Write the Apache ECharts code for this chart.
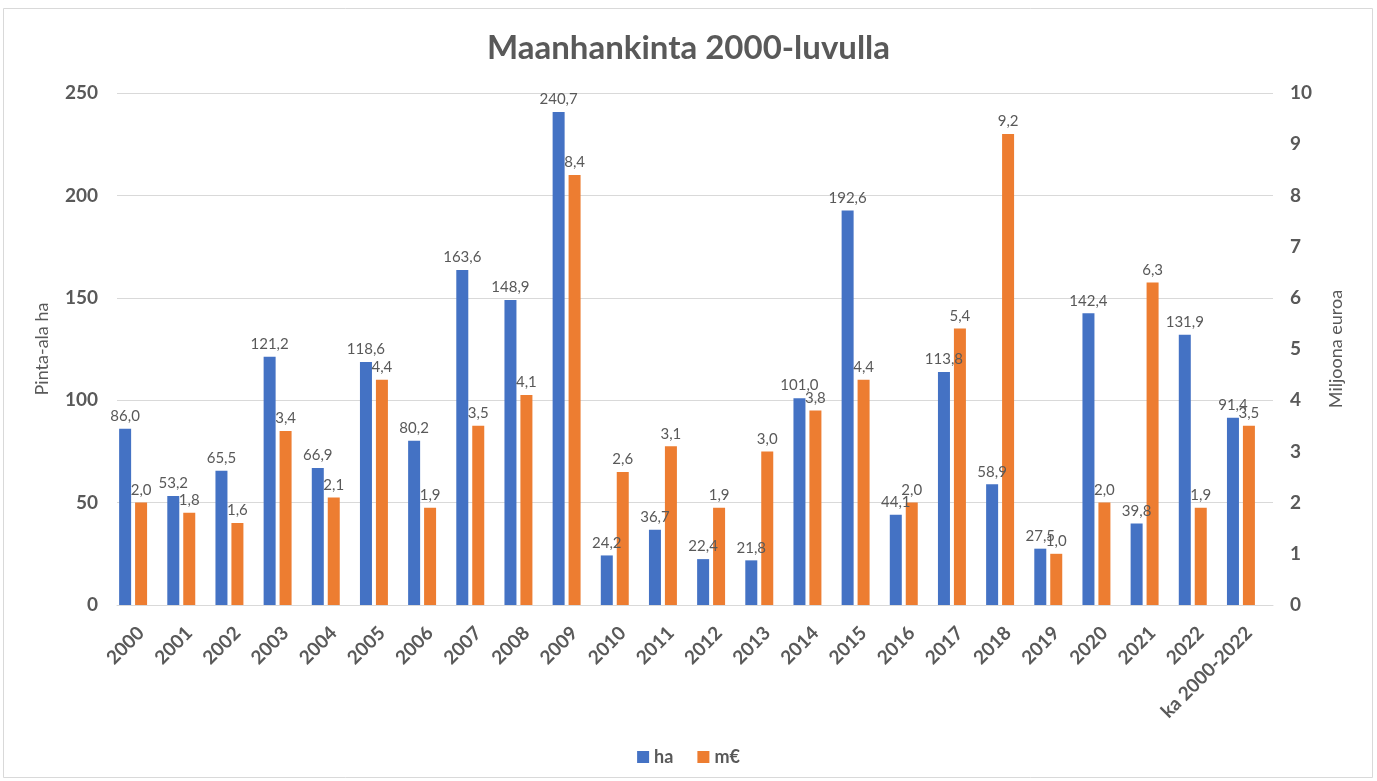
<!DOCTYPE html>
<html><head><meta charset="utf-8">
<script src="https://cdn.jsdelivr.net/npm/echarts@6/dist/echarts.min.js"></script>
<style>html,body{margin:0;padding:0;background:#fff}#c{width:1377px;height:781px}</style>
</head><body><div id="c"></div>
<script>
const categories = ['2000','2001','2002','2003','2004','2005','2006','2007','2008','2009','2010','2011','2012','2013','2014','2015','2016','2017','2018','2019','2020','2021','2022','ka 2000-2022'];
const haValues = [86.0,53.2,65.5,121.2,66.9,118.6,80.2,163.6,148.9,240.7,24.2,36.7,22.4,21.8,101.0,192.6,44.1,113.8,58.9,27.5,142.4,39.8,131.9,91.4];
const meurValues = [2.0,1.8,1.6,3.4,2.1,4.4,1.9,3.5,4.1,8.4,2.6,3.1,1.9,3.0,3.8,4.4,2.0,5.4,9.2,1.0,2.0,6.3,1.9,3.5];
const leftTicks = {min:0,max:250,interval:50};
const rightTicks = {min:0,max:10,interval:1};

const FONT = 'Lato, "Noto Sans", sans-serif';
const GREY = '#595959';
const fmt = p => p.value.toFixed(1).replace('.', ',');
const chart = echarts.init(document.getElementById('c'), null, {renderer:'canvas'});
chart.setOption({
  animation:false,
  backgroundColor:'#fff',
  textStyle:{fontFamily:FONT},
  graphic:[{type:'rect',shape:{x:3.5,y:8.5,width:1369,height:769},style:{fill:null,stroke:'#d9d9d9',lineWidth:1},silent:true}],
  title:{text:'Maanhankinta 2000-luvulla',left:'center',top:27,textStyle:{fontFamily:FONT,fontSize:33,fontWeight:'bold',color:GREY}},
  legend:{data:['ha','m€'],bottom:10,left:'center',itemWidth:12,itemHeight:12,itemGap:24,icon:'rect',
    textStyle:{fontFamily:FONT,fontSize:18,fontWeight:'bold',color:GREY}},
  grid:{left:117,right:104,top:93,bottom:176,containLabel:false},
  xAxis:{type:'category',data:categories,
    axisLine:{lineStyle:{color:'#d9d9d9'}},axisTick:{show:false},
    axisLabel:{interval:0,rotate:45,fontFamily:FONT,fontSize:19,fontWeight:'bold',color:GREY,margin:25}},
  yAxis:[
    {type:'value',min:leftTicks.min,max:leftTicks.max,interval:leftTicks.interval,name:'Pinta-ala ha',nameLocation:'middle',nameGap:66,nameRotate:90,
     nameTextStyle:{fontFamily:FONT,fontSize:18,color:GREY},
     axisLine:{show:false},axisTick:{show:false},
     axisLabel:{fontFamily:FONT,fontSize:19,fontWeight:'bold',color:GREY,margin:19},
     splitLine:{lineStyle:{color:'#d9d9d9'}}},
    {type:'value',min:rightTicks.min,max:rightTicks.max,interval:rightTicks.interval,name:'Miljoona euroa',nameLocation:'middle',nameGap:54,nameRotate:90,
     nameTextStyle:{fontFamily:FONT,fontSize:18,color:GREY},
     axisLine:{show:false},axisTick:{show:false},
     axisLabel:{fontFamily:FONT,fontSize:19,fontWeight:'bold',color:GREY,margin:17},
     splitLine:{show:false}}
  ],
  series:[
    {name:'ha',type:'bar',yAxisIndex:0,data:haValues,barWidth:12,barGap:'33%',
     itemStyle:{color:'#4472c4'},
     label:{show:true,position:'top',distance:5,formatter:fmt,fontFamily:FONT,fontSize:15,color:GREY}},
    {name:'m€',type:'bar',yAxisIndex:1,data:meurValues,barWidth:12,barGap:'33%',
     itemStyle:{color:'#ed7d31'},
     label:{show:true,position:'top',distance:5,formatter:fmt,fontFamily:FONT,fontSize:15,color:GREY}},
    {name:'spacer',type:'bar',yAxisIndex:1,data:[],barWidth:12,barGap:'33%',silent:true}
  ]
});
</script></body></html>
